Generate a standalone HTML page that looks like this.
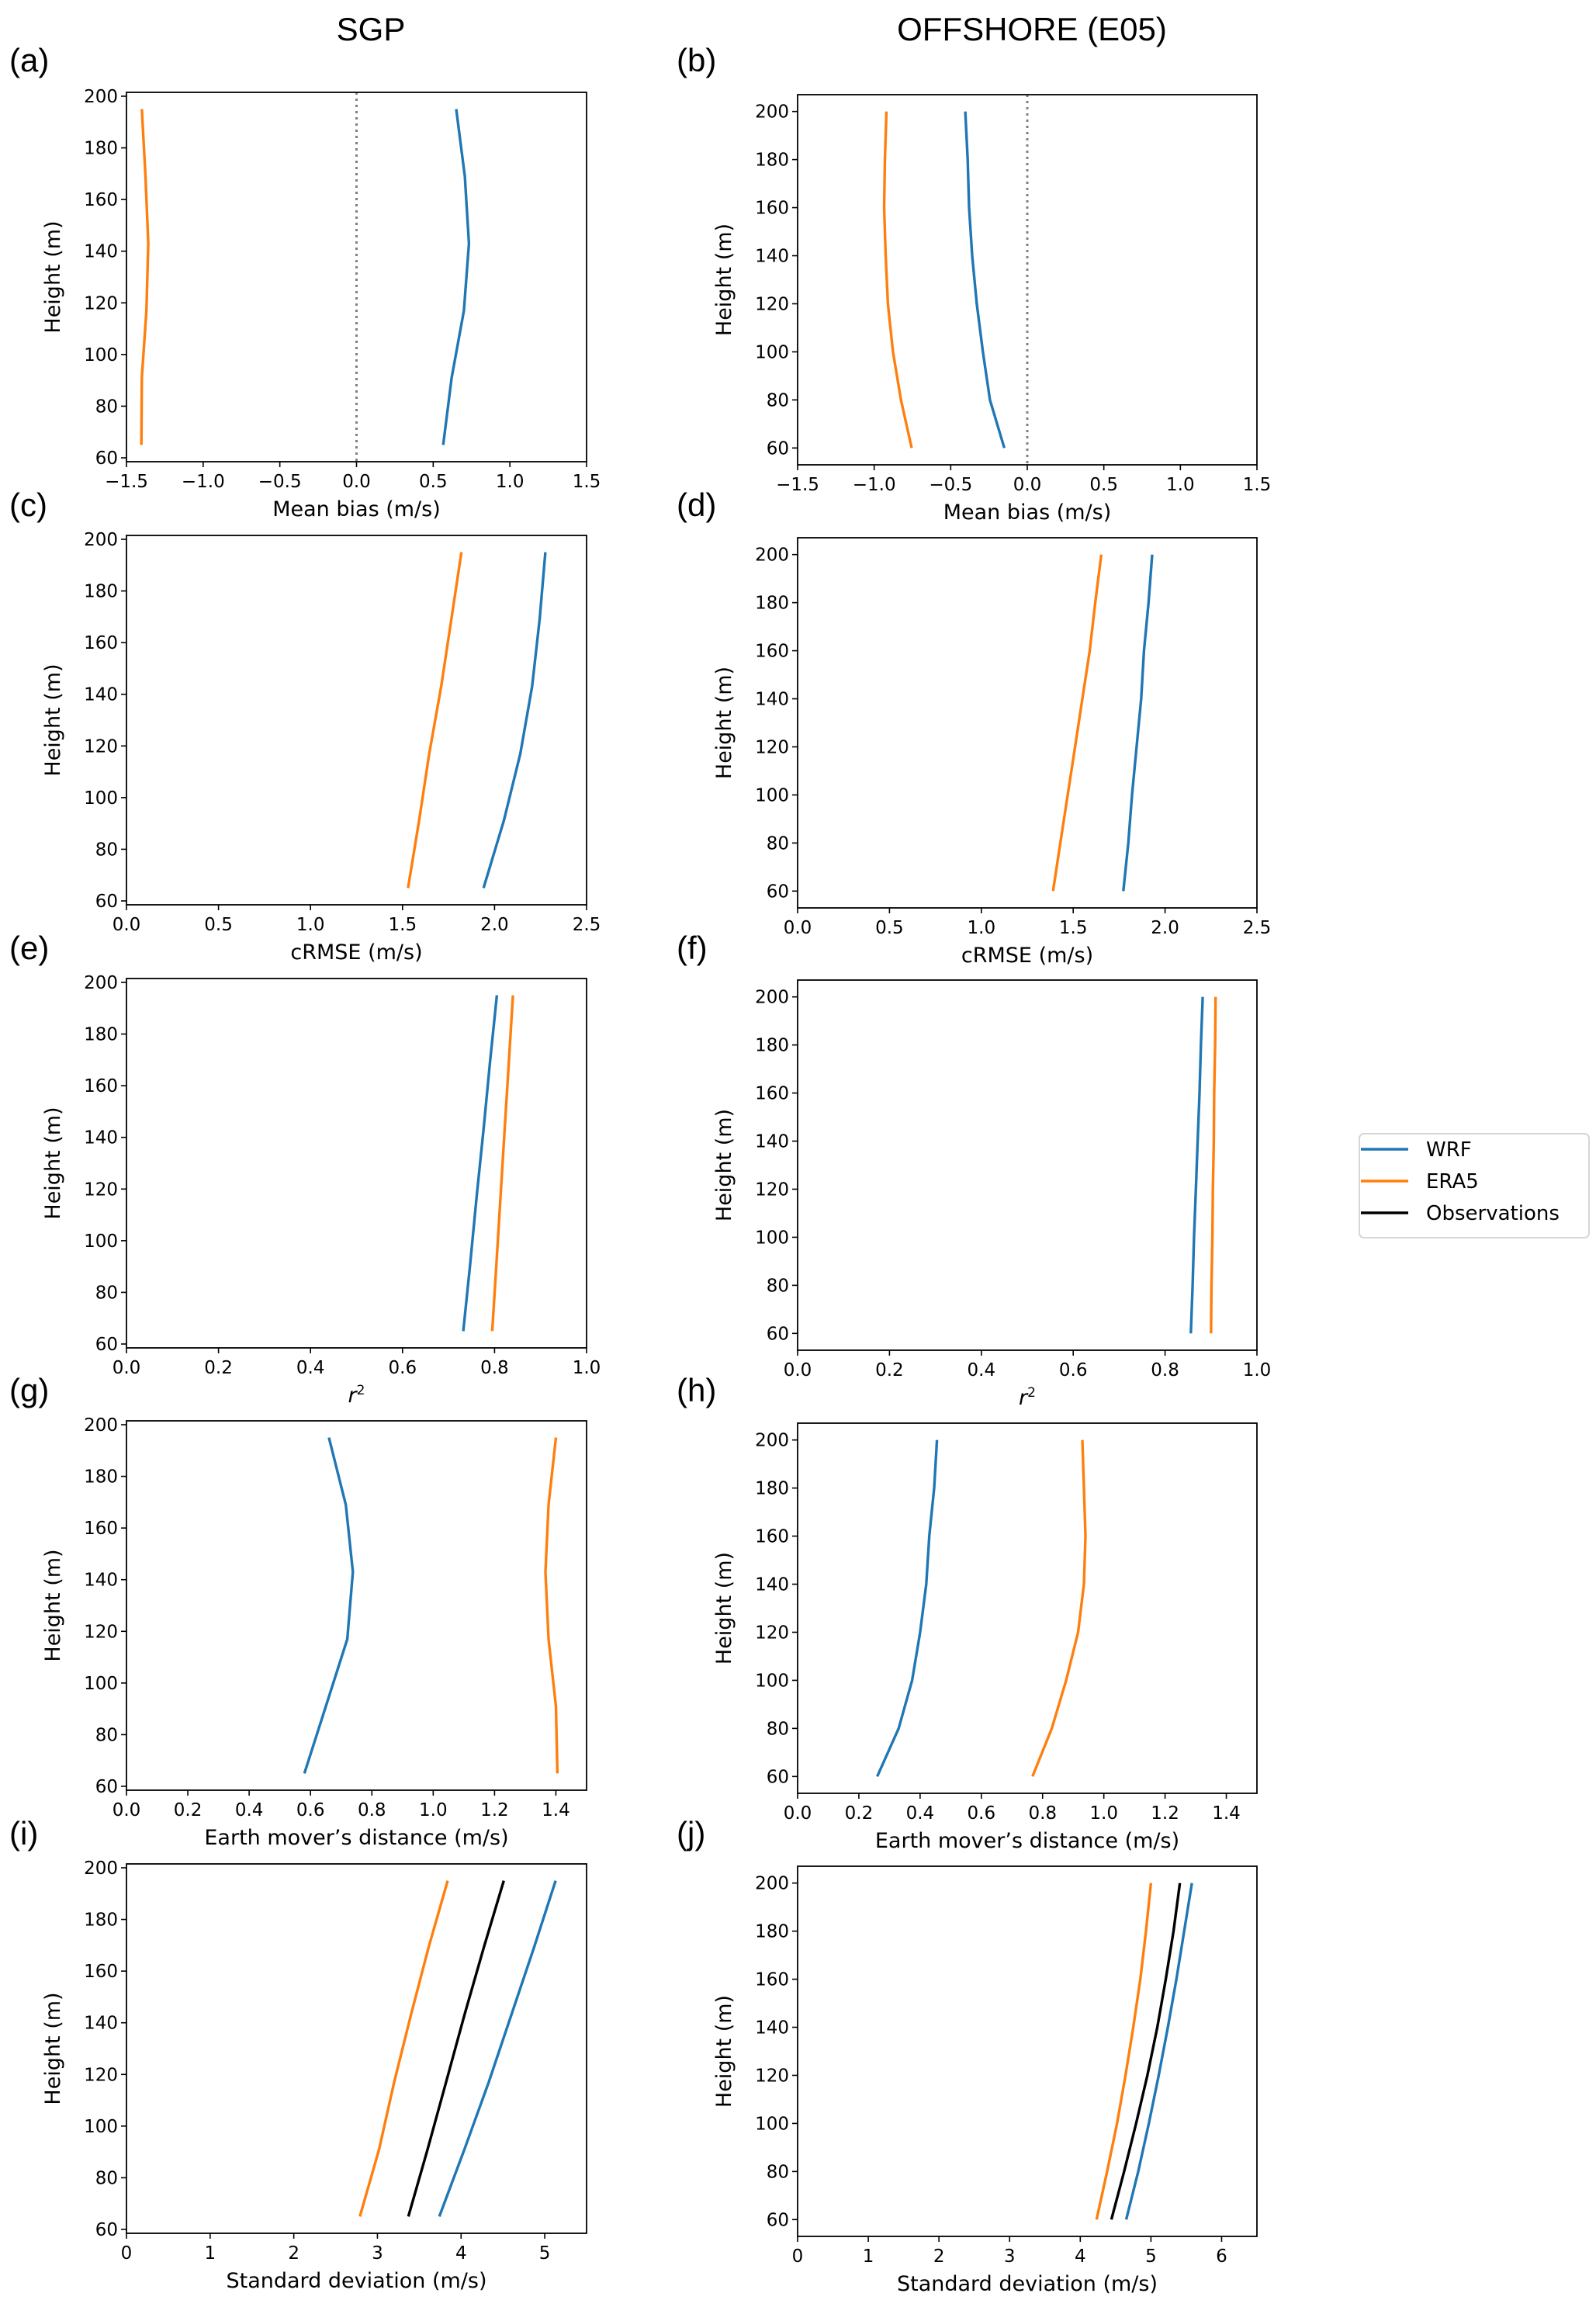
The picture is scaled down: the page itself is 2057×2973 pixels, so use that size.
<!DOCTYPE html>
<html><head><meta charset="utf-8">
<style>
html,body{margin:0;padding:0;background:#fff;}
svg{display:block;}
text{font-family:"DejaVu Sans","Liberation Sans",sans-serif;fill:#000;}
.big{font-family:"Liberation Sans",sans-serif;}
</style></head>
<body>
<svg id="s" width="2057" height="2973" xmlns="http://www.w3.org/2000/svg">
<text class="big" x="478" y="52" font-size="42" text-anchor="middle">SGP</text>
<text class="big" x="1330" y="52" font-size="42" text-anchor="middle">OFFSHORE (E05)</text>
<text class="big" x="12" y="92" font-size="42">(a)</text>
<text class="big" x="872" y="92" font-size="42">(b)</text>
<text class="big" x="12" y="665" font-size="42">(c)</text>
<text class="big" x="872" y="665" font-size="42">(d)</text>
<text class="big" x="12" y="1236" font-size="42">(e)</text>
<text class="big" x="872" y="1236" font-size="42">(f)</text>
<text class="big" x="12" y="1806" font-size="42">(g)</text>
<text class="big" x="872" y="1806" font-size="42">(h)</text>
<text class="big" x="12" y="2377" font-size="42">(i)</text>
<text class="big" x="872" y="2377" font-size="42">(j)</text>
<g>
<rect x="1752" y="1461" width="296" height="134" rx="6" fill="#fff" stroke="#d6d6d6" stroke-width="2"/>
<line x1="1754" y1="1481" x2="1815" y2="1481" stroke="#1f77b4" stroke-width="3.4"/>
<line x1="1754" y1="1522" x2="1815" y2="1522" stroke="#ff7f0e" stroke-width="3.4"/>
<line x1="1754" y1="1563" x2="1815" y2="1563" stroke="#000" stroke-width="3.4"/>
<text x="1838" y="1490" font-size="26">WRF</text>
<text x="1838" y="1531" font-size="26">ERA5</text>
<text x="1838" y="1572" font-size="26">Observations</text>
</g>
</svg>
<script>
var S=document.getElementById('s'),NS='http://www.w3.org/2000/svg';
function el(t,a,txt){var e=document.createElementNS(NS,t);for(var k in a)e.setAttribute(k,a[k]);if(txt!==undefined)e.textContent=txt;S.appendChild(e);return e;}
var B='#1f77b4',O='#ff7f0e',K='#000';
var hS=[65,91,117,143,169,195],hO=[60,80,100,120,140,160,180,200];
function panel(o){
 var L=o.L,R=o.R,T=o.T,Bt=o.B;
 var fx=function(v){return L+(v-o.x0)/(o.x1-o.x0)*(R-L);};
 var fy=function(v){return Bt-(v-o.y0)/(o.y1-o.y0)*(Bt-T);};
 if(o.zero){el('line',{x1:fx(0),y1:T,x2:fx(0),y2:Bt,stroke:'#808080','stroke-width':3,'stroke-dasharray':'3,5'});}
 o.series.forEach(function(s){
  var p=s.v.map(function(v,i){return fx(v).toFixed(1)+','+fy(o.h[i]).toFixed(1);}).join(' ');
  el('polyline',{points:p,fill:'none',stroke:s.c,'stroke-width':3.4,'stroke-linejoin':'round'});
 });
 el('rect',{x:L,y:T,width:R-L,height:Bt-T,fill:'none',stroke:'#000','stroke-width':1.8});
 for(var y=60;y<=200;y+=20){var py=fy(y);el('line',{x1:L-7,y1:py,x2:L,y2:py,stroke:'#000','stroke-width':1.6});el('text',{x:L-11,y:py+8,'font-size':23,'text-anchor':'end'},String(y));}
 o.xt.forEach(function(t){var px=fx(t[0]);el('line',{x1:px,y1:Bt,x2:px,y2:Bt+7,stroke:'#000','stroke-width':1.6});el('text',{x:px,y:Bt+33,'font-size':23,'text-anchor':'middle'},t[1]);});
 var xl=el('text',{x:(L+R)/2,y:Bt+70,'font-size':27,'text-anchor':'middle'},o.xl);
 if(o.sup){xl.textContent='';var a=document.createElementNS(NS,'tspan');a.setAttribute('font-style','italic');a.textContent='r';xl.appendChild(a);var b=document.createElementNS(NS,'tspan');b.setAttribute('font-size','17');b.setAttribute('dy','-10');b.textContent='2';xl.appendChild(b);}
 var cx=L-86,cy=(T+Bt)/2;
 el('text',{x:cx,y:cy,'font-size':27,'text-anchor':'middle',transform:'rotate(-90 '+cx+' '+cy+')'},'Height (m)');
}
var LT=[119,690,1261,1831,2402],RT=[122,693,1263,1834,2405];
function Lp(i){return {L:163,R:756,T:LT[i],B:LT[i]+476,y0:58.5,y1:201.5,h:hS};}
function Rp(i){return {L:1028,R:1620,T:RT[i],B:RT[i]+477,y0:53,y1:207,h:hO};}
function ext(a,b){for(var k in b)a[k]=b[k];return a;}
var mb=[[-1.5,'\u22121.5'],[-1,'\u22121.0'],[-0.5,'\u22120.5'],[0,'0.0'],[0.5,'0.5'],[1,'1.0'],[1.5,'1.5']];
var cr=[[0,'0.0'],[0.5,'0.5'],[1,'1.0'],[1.5,'1.5'],[2,'2.0'],[2.5,'2.5']];
var r2=[[0,'0.0'],[0.2,'0.2'],[0.4,'0.4'],[0.6,'0.6'],[0.8,'0.8'],[1,'1.0']];
var em=[[0,'0.0'],[0.2,'0.2'],[0.4,'0.4'],[0.6,'0.6'],[0.8,'0.8'],[1,'1.0'],[1.2,'1.2'],[1.4,'1.4']];
var sd5=[[0,'0'],[1,'1'],[2,'2'],[3,'3'],[4,'4'],[5,'5']];
var sd6=[[0,'0'],[1,'1'],[2,'2'],[3,'3'],[4,'4'],[5,'5'],[6,'6']];
panel(ext(Lp(0),{x0:-1.5,x1:1.5,xt:mb,xl:'Mean bias (m/s)',zero:1,series:[
 {c:O,v:[-1.403,-1.40,-1.37,-1.358,-1.376,-1.40]},{c:B,v:[0.565,0.62,0.70,0.733,0.706,0.65]}]}));
panel(ext(Rp(0),{x0:-1.5,x1:1.5,xt:mb,xl:'Mean bias (m/s)',zero:1,series:[
 {c:O,v:[-0.755,-0.825,-0.877,-0.91,-0.925,-0.935,-0.93,-0.92]},{c:B,v:[-0.15,-0.244,-0.29,-0.33,-0.36,-0.38,-0.389,-0.405]}]}));
panel(ext(Lp(1),{x0:0,x1:2.5,xt:cr,xl:'cRMSE (m/s)',series:[
 {c:O,v:[1.53,1.59,1.645,1.71,1.765,1.82]},{c:B,v:[1.94,2.05,2.14,2.204,2.245,2.276]}]}));
panel(ext(Rp(1),{x0:0,x1:2.5,xt:cr,xl:'cRMSE (m/s)',series:[
 {c:O,v:[1.39,1.43,1.47,1.51,1.55,1.59,1.62,1.653]},{c:B,v:[1.773,1.80,1.82,1.845,1.87,1.885,1.91,1.93]}]}));
panel(ext(Lp(2),{x0:0,x1:1,xt:r2,xl:'r2',sup:1,series:[
 {c:O,v:[0.795,0.804,0.813,0.822,0.831,0.84]},{c:B,v:[0.732,0.747,0.761,0.776,0.79,0.805]}]}));
panel(ext(Rp(2),{x0:0,x1:1,xt:r2,xl:'r2',sup:1,series:[
 {c:O,v:[0.90,0.901,0.903,0.904,0.906,0.907,0.909,0.91]},{c:B,v:[0.856,0.86,0.863,0.867,0.871,0.875,0.878,0.882]}]}));
panel(ext(Lp(3),{x0:0,x1:1.5,xt:em,xl:'Earth mover\u2019s distance (m/s)',series:[
 {c:O,v:[1.405,1.40,1.376,1.366,1.376,1.40]},{c:B,v:[0.58,0.65,0.72,0.738,0.715,0.66]}]}));
panel(ext(Rp(3),{x0:0,x1:1.5,xt:em,xl:'Earth mover\u2019s distance (m/s)',series:[
 {c:O,v:[0.767,0.83,0.877,0.916,0.935,0.94,0.935,0.93]},{c:B,v:[0.26,0.33,0.374,0.40,0.42,0.43,0.446,0.455]}]}));
panel(ext(Lp(4),{x0:0,x1:5.5,xt:sd5,xl:'Standard deviation (m/s)',series:[
 {c:O,v:[2.79,3.02,3.2,3.4,3.61,3.84]},{c:K,v:[3.37,3.6,3.82,4.04,4.27,4.51]},{c:B,v:[3.74,4.04,4.33,4.6,4.87,5.13]}]}));
panel(ext(Rp(4),{x0:0,x1:6.5,xt:sd6,xl:'Standard deviation (m/s)',series:[
 {c:O,v:[4.23,4.38,4.52,4.64,4.75,4.85,4.93,5.0]},{c:K,v:[4.44,4.62,4.79,4.95,5.09,5.21,5.32,5.41]},{c:B,v:[4.65,4.82,4.97,5.11,5.24,5.36,5.47,5.58]}]}));
</script>
</body></html>
